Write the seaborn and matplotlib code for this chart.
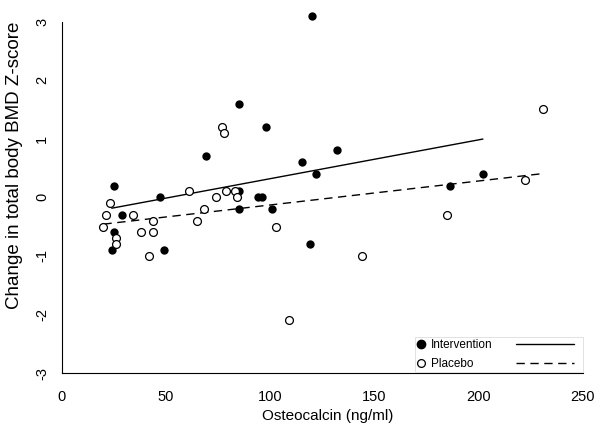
import pandas as pd
import matplotlib
matplotlib.use("Agg")
import matplotlib.pyplot as plt
import seaborn as sns
from matplotlib.lines import Line2D
from matplotlib.legend_handler import HandlerLine2D

# =========================================
# DATA
# =========================================

interv_osteo = [25, 24, 25, 29, 47, 49, 69, 85, 85, 85, 94, 96, 98, 101,
                115, 119, 120, 122, 132, 186, 202]
interv_bmd = [0.2, -0.9, -0.6, -0.3, 0.0, -0.9, 0.7, 1.6, 0.1, -0.2, 0.0, 0.0,
              1.2, -0.2, 0.6, -0.8, 3.1, 0.4, 0.8, 0.2, 0.4]

placebo_osteo = [23, 21, 20, 26, 26, 34, 38, 44, 44, 42, 61, 65, 68, 74, 77,
                 78, 79, 83, 84, 103, 109, 144, 185, 222, 231]
placebo_bmd = [-0.1, -0.3, -0.5, -0.7, -0.8, -0.3, -0.6, -0.4, -0.6, -1.0, 0.1,
               -0.4, -0.2, 0.0, 1.2, 1.1, 0.1, 0.1, 0.0, -0.5, -2.1, -1.0, -0.3,
               0.3, 1.5]

x_ticks = [0, 50, 100, 150, 200, 250]
y_ticks = [-3, -2, -1, 0, 1, 2, 3]

df_int = pd.DataFrame({"osteo": interv_osteo, "bmd": interv_bmd})
df_pla = pd.DataFrame({"osteo": placebo_osteo, "bmd": placebo_bmd})

# =========================================
# STYLE
# =========================================

sns.set_style("white")
plt.rcParams["font.family"] = ["Liberation Sans", "DejaVu Sans"]
plt.rcParams["axes.unicode_minus"] = False
plt.rcParams["text.color"] = "black"
plt.rcParams["axes.labelcolor"] = "black"


class WideLineHandler(HandlerLine2D):
    # line sample wider than the marker column
    def __init__(self, width_em=4.9, **kw):
        super().__init__(**kw)
        self.width_em = width_em

    def legend_artist(self, legend, orig_handle, fontsize, handlebox):
        handlebox.width = self.width_em * fontsize
        return super().legend_artist(legend, orig_handle, fontsize, handlebox)


# =========================================
# PLOT
# =========================================

fig = plt.figure(figsize=(6, 4.28), dpi=100)
ax = fig.add_axes([0.0855, 0.1147, 0.9035, 0.8692])

sns.regplot(
    data=df_int, x="osteo", y="bmd", ci=None, ax=ax, color="black",
    scatter_kws={"s": 36, "alpha": 1, "linewidths": 0, "zorder": 3},
    line_kws={"lw": 1.0, "zorder": 2},
)
sns.regplot(
    data=df_pla, x="osteo", y="bmd", ci=None, ax=ax, color="black",
    scatter_kws={"s": 32, "alpha": 1, "facecolors": "white",
                 "edgecolors": "black", "linewidths": 0.9, "zorder": 3},
    line_kws={"lw": 1.0, "dashes": (6, 4), "zorder": 2},
)

ax.set_xlim(-5, 255)
ax.set_ylim(-3.1, 3.25)
ax.set_xticks(x_ticks)
ax.set_yticks(y_ticks)

for side in ["top", "right"]:
    ax.spines[side].set_visible(False)
ax.spines["left"].set_position(("data", 0))
ax.spines["bottom"].set_position(("data", -3))
ax.spines["left"].set_bounds(-3, 3)
ax.spines["bottom"].set_bounds(0, 250)
for side in ["left", "bottom"]:
    ax.spines[side].set_linewidth(0.8)
    ax.spines[side].set_color("black")

ax.tick_params(axis="both", direction="out", length=3.6, width=0.75,
               colors="black", labelsize=10.5)
ax.tick_params(axis="x", pad=8.5)
ax.tick_params(axis="y", pad=5.5)
plt.setp(ax.get_yticklabels(), rotation=90, va="center")

ax.set_xlabel("Osteocalcin (ng/ml)", fontsize=11)
ax.set_ylabel("Change in total body BMD Z-score", fontsize=13.5)
ax.xaxis.set_label_coords(0.510, -0.081)
ax.yaxis.set_label_coords(-0.052, 0.575)

# legend: marker + label, then line sample
handles = [
    Line2D([], [], ls="none", marker="o", markersize=6, color="black"),
    Line2D([], [], ls="none", marker="o", markersize=5.6,
           markerfacecolor="white", markeredgecolor="black", markeredgewidth=0.9),
    Line2D([], [], color="black", lw=1.0),
    Line2D([], [], color="black", lw=1.0, dashes=(6, 4)),
]
labels = ["Intervention", "Placebo", "", ""]
leg = ax.legend(
    handles, labels, ncol=2, loc="lower right",
    bbox_to_anchor=(0.981, 0.0185), borderaxespad=0,
    fontsize=8.5, handlelength=0.6, handletextpad=0.6, columnspacing=1.95,
    borderpad=0.2, labelspacing=0.55, frameon=True, fancybox=False,
    framealpha=1, edgecolor="#dddddd",
    handler_map={handles[2]: WideLineHandler(), handles[3]: WideLineHandler()},
)
leg.get_frame().set_linewidth(0.6)

plt.savefig("out.png", dpi=100)
plt.close()
